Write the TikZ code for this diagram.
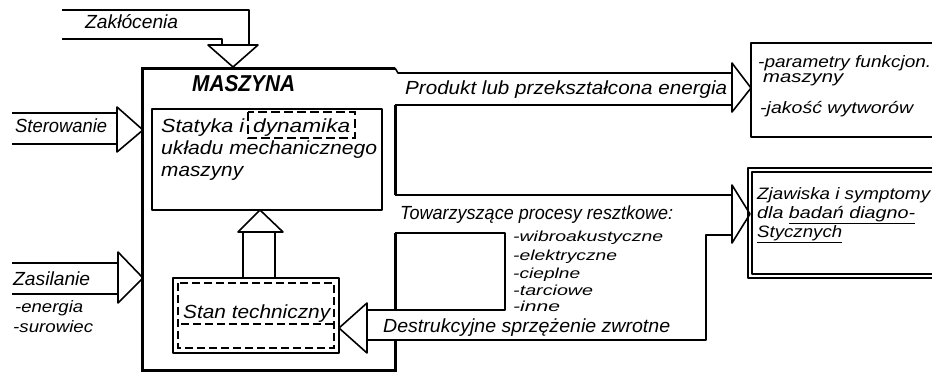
\documentclass[tikz,border=0pt]{standalone}
\usepackage{fontspec}
\setmainfont{Liberation Sans}
\usepackage{graphicx}
\newcommand\fw[2]{\resizebox{#1pt}{\height}{#2}}
\tikzset{
  ln/.style={line width=1.6pt, line join=round},
  thk/.style={line width=3pt, line join=miter},
  dboxstyle/.style={line width=2pt, dash pattern=on 9pt off 4pt},
  dinner/.style={line width=1.4pt, dash pattern=on 8pt off 4pt},
  hw/.style={anchor=base west, inner sep=0pt, font=\fontsize{19}{22}\selectfont\itshape},
  hws/.style={anchor=base west, inner sep=0pt, font=\fontsize{16.5}{19}\selectfont\itshape},
  hwl/.style={anchor=base west, inner sep=0pt, font=\fontsize{14.5}{16}\selectfont\itshape},
  hwb/.style={anchor=base west, inner sep=0pt, font=\fontsize{23}{25}\selectfont\itshape\bfseries},
}
\begin{document}
\begin{tikzpicture}[x=1pt,y=-1pt]
\useasboundingbox (0,0) rectangle (932,373);
\clip (0,0) rectangle (932,373);
% Zaklocenia
\draw[ln] (62,10) -- (249,10) -- (249,45);
\draw[ln] (62,39) -- (222,39) -- (222,45);
\draw[ln] (208,45) -- (258,45) -- (233,67) -- cycle;
% Sterowanie
\draw[ln] (12,113) -- (117,113);
\draw[ln] (12,144) -- (117,144);
\draw[ln] (117,107) -- (117,152) -- (143,130) -- cycle;
% Zasilanie
\draw[ln] (12,263) -- (118,263);
\draw[ln] (12,294) -- (118,294);
\draw[ln] (118,252) -- (118,303) -- (143,278) -- cycle;
% main box
\draw[thk] (395,68) -- (142,68) -- (142,370) -- (395,370) -- (395,340);
\draw[thk] (395,233) -- (395,310);
\draw[thk] (395,105) -- (395,195);
% Produkt band
\draw[ln] (395,68) -- (398,73) -- (732,73);
\draw[ln] (395,105) -- (732,105);
\draw[ln] (732,63) -- (732,112) -- (751,88) -- cycle;
\draw[ln] (940,43) -- (751,43) -- (751,137) -- (940,137);
% Towarzyszace band
\draw[ln] (395,195) -- (732,195);
\draw[ln] (732,185) -- (732,243) -- (750,214) -- cycle;
\draw[ln] (732,235) -- (706,235) -- (706,340) -- (367,340);
\draw[ln] (367,310) -- (505,310) -- (505,233) -- (395,233);
\draw[ln] (367,303) -- (367,353) -- (339,328) -- cycle;
% Zjawiska box
\draw[ln] (940,168) -- (748,168) -- (748,278) -- (940,278);
\draw[ln] (940,172) -- (752,172) -- (752,274) -- (940,274);
% Statyka box
\draw[ln] (152,109) rectangle (382,210);
\draw[dboxstyle] (248,112) rectangle (355,138);
% up arrow
\draw[ln] (243,278) -- (243,232);
\draw[ln] (275,278) -- (275,232);
\draw[ln] (238,232) -- (283,232) -- (260,210) -- cycle;
% Stan box
\draw[ln] (173,278) rectangle (339,353);
\draw[dinner] (178,283) rectangle (334,348);
\draw[dinner] (181,324) -- (333,324);
% texts
\node[hw] (tz) at (85,28) {\fw{93}{Zakłócenia}};
\node[hwb] (tm) at (192,91) {\fw{103}{MASZYNA}};
\node[hw] (ts) at (15,132) {\fw{92}{Sterowanie}};
\node[hw] (tst1) at (161,132) {\fw{83}{Statyka i}};
\node[hw] (tst2) at (253,132) {\fw{97}{dynamika}};
\node[hw] (tst3) at (161,154) {\fw{216}{układu mechanicznego}};
\node[hw] (tst4) at (161,176) {\fw{82}{maszyny}};
\node[hw] (tstan) at (183,318) {\fw{147}{Stan techniczny}};
\node[hw] (tp) at (405,94) {\fw{322}{Produkt lub przekształcona energia}};
\node[hws] (tr1) at (758,67) {\fw{173}{-parametry funkcjon.}};
\node[hws] (tr2) at (763,82) {\fw{80}{maszyny}};
\node[hws] (tr3) at (760,113) {\fw{153}{-jakość wytworów}};
\node[hw] (tt) at (400,219) {\fw{273}{Towarzyszące procesy resztkowe:}};
\node[hwl] (tl1) at (513,241) {\fw{150}{-wibroakustyczne}};
\node[hwl] (tl2) at (513,260) {\fw{104}{-elektryczne}};
\node[hwl] (tl3) at (513,278) {\fw{67}{-cieplne}};
\node[hwl] (tl4) at (513,295) {\fw{80}{-tarciowe}};
\node[hwl] (tl5) at (513,311) {\fw{47}{-inne}};
\node[hw] (td) at (383,332) {\fw{287}{Destrukcyjne sprzężenie zwrotne}};
\node[hws] (tj1) at (757,199) {\fw{173}{Zjawiska i symptomy}};
\node[hws] (tj2) at (757,218) {\fw{158}{dla \underline{badań diagno-}}};
\node[hws] (tj3) at (757,237) {\fw{85}{\underline{Stycznych}}};
\node[hw] (tza) at (13,285) {\fw{77}{Zasilanie}};
\node[hws] (te1) at (15,312) {\fw{68}{-energia}};
\node[hws] (te2) at (13,332) {\fw{80}{-surowiec}};
\end{tikzpicture}
\end{document}
